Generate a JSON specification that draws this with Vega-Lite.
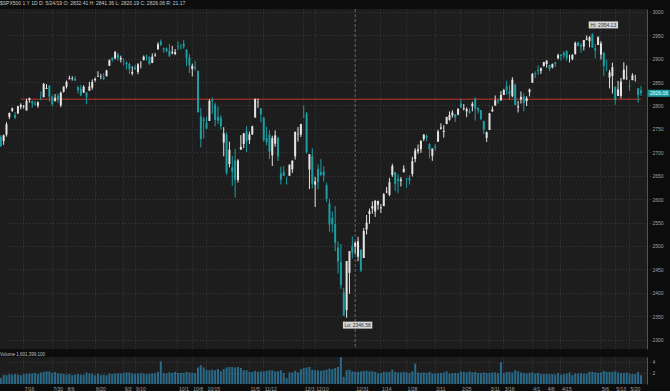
{
"$schema": "https://vega.github.io/schema/vega-lite/v6.json",
"background": "#0c0c0c",
"padding": 0,
"spacing": 1,
"title": {"text": "$SPX500 1 Y 1D   D: 5/24/19   O: 2832.41   H: 2841.36   L: 2820.19   C: 2826.06   R: 21.17", "anchor": "start", "frame": "group", "fontSize": 5, "font": "Liberation Sans", "fontWeight": "normal", "color": "#c8c8c8", "offset": 3},
"config": {"view": {"fill": "#1d1d1d", "stroke": null}, "axis": {"labelFont": "Liberation Sans", "labelFontSize": 5, "labelColor": "#a0a0a0", "title": null}},
"datasets": {
"px": [
{"d":"2018-07-02","o":2704.95,"h":2727.26,"l":2698.95,"c":2726.71,"v":1.6},
{"d":"2018-07-03","o":2733.27,"h":2736.58,"l":2711.16,"c":2713.22,"v":1.1},
{"d":"2018-07-05","o":2724.19,"h":2737.83,"l":2716.02,"c":2736.61,"v":1.7},
{"d":"2018-07-06","o":2737.68,"h":2764.41,"l":2733.52,"c":2759.82,"v":1.6},
{"d":"2018-07-09","o":2775.62,"h":2784.65,"l":2770.73,"c":2784.17,"v":1.8},
{"d":"2018-07-10","o":2788.56,"h":2795.58,"l":2786.24,"c":2793.84,"v":1.7},
{"d":"2018-07-11","o":2779.82,"h":2785.91,"l":2770.77,"c":2774.02,"v":1.8},
{"d":"2018-07-12","o":2783.14,"h":2799.22,"l":2781.53,"c":2798.29,"v":1.7},
{"d":"2018-07-13","o":2796.93,"h":2804.53,"l":2791.69,"c":2801.31,"v":1.6},
{"d":"2018-07-16","o":2797.36,"h":2801.19,"l":2793.39,"c":2798.43,"v":1.8},
{"d":"2018-07-17","o":2789.34,"h":2814.19,"l":2789.24,"c":2809.55,"v":1.9},
{"d":"2018-07-18","o":2811.35,"h":2816.76,"l":2805.89,"c":2815.62,"v":1.9},
{"d":"2018-07-19","o":2809.37,"h":2810.47,"l":2795.14,"c":2804.49,"v":1.9},
{"d":"2018-07-20","o":2804.55,"h":2809.7,"l":2800.01,"c":2801.83,"v":2.0},
{"d":"2018-07-23","o":2799.17,"h":2808.61,"l":2795.14,"c":2806.98,"v":1.8},
{"d":"2018-07-24","o":2820.68,"h":2829.99,"l":2811.12,"c":2820.4,"v":2.1},
{"d":"2018-07-25","o":2817.73,"h":2848.03,"l":2817.73,"c":2846.07,"v":2.2},
{"d":"2018-07-26","o":2835.49,"h":2845.57,"l":2835.26,"c":2837.44,"v":2.3},
{"d":"2018-07-27","o":2842.35,"h":2843.17,"l":2808.34,"c":2818.82,"v":2.3},
{"d":"2018-07-30","o":2819.0,"h":2821.74,"l":2798.11,"c":2802.6,"v":2.0},
{"d":"2018-07-31","o":2809.73,"h":2824.46,"l":2808.06,"c":2816.29,"v":2.2},
{"d":"2018-08-01","o":2821.17,"h":2825.83,"l":2805.85,"c":2813.36,"v":1.9},
{"d":"2018-08-02","o":2800.48,"h":2829.91,"l":2796.34,"c":2827.22,"v":1.9},
{"d":"2018-08-03","o":2829.62,"h":2840.38,"l":2827.37,"c":2840.35,"v":1.8},
{"d":"2018-08-06","o":2840.29,"h":2853.29,"l":2835.98,"c":2850.4,"v":1.7},
{"d":"2018-08-07","o":2855.92,"h":2863.43,"l":2855.92,"c":2858.45,"v":1.8},
{"d":"2018-08-08","o":2856.79,"h":2862.44,"l":2853.09,"c":2857.7,"v":1.6},
{"d":"2018-08-09","o":2857.19,"h":2862.48,"l":2851.98,"c":2853.58,"v":1.7},
{"d":"2018-08-10","o":2838.9,"h":2842.2,"l":2825.81,"c":2833.28,"v":1.8},
{"d":"2018-08-13","o":2835.46,"h":2843.4,"l":2819.88,"c":2821.93,"v":1.7},
{"d":"2018-08-14","o":2827.88,"h":2843.11,"l":2826.58,"c":2839.96,"v":1.7},
{"d":"2018-08-15","o":2827.95,"h":2827.95,"l":2802.49,"c":2818.37,"v":2.1},
{"d":"2018-08-16","o":2831.44,"h":2850.49,"l":2831.44,"c":2840.69,"v":1.9},
{"d":"2018-08-17","o":2838.32,"h":2855.63,"l":2833.73,"c":2850.13,"v":1.9},
{"d":"2018-08-20","o":2853.93,"h":2859.76,"l":2850.62,"c":2857.05,"v":1.6},
{"d":"2018-08-21","o":2861.51,"h":2873.23,"l":2861.32,"c":2862.96,"v":1.9},
{"d":"2018-08-22","o":2860.99,"h":2867.54,"l":2856.05,"c":2861.82,"v":1.6},
{"d":"2018-08-23","o":2860.29,"h":2868.78,"l":2854.03,"c":2856.98,"v":1.7},
{"d":"2018-08-24","o":2862.35,"h":2876.16,"l":2862.35,"c":2874.69,"v":1.6},
{"d":"2018-08-27","o":2884.69,"h":2898.25,"l":2884.69,"c":2896.74,"v":1.9},
{"d":"2018-08-28","o":2901.45,"h":2903.77,"l":2893.5,"c":2897.52,"v":1.8},
{"d":"2018-08-29","o":2900.62,"h":2916.5,"l":2898.4,"c":2914.04,"v":1.9},
{"d":"2018-08-30","o":2908.94,"h":2912.46,"l":2895.22,"c":2901.13,"v":1.9},
{"d":"2018-08-31","o":2898.37,"h":2906.32,"l":2891.73,"c":2901.52,"v":1.9},
{"d":"2018-09-04","o":2896.96,"h":2900.18,"l":2885.13,"c":2896.72,"v":2.0},
{"d":"2018-09-05","o":2891.59,"h":2894.21,"l":2876.92,"c":2888.6,"v":2.1},
{"d":"2018-09-06","o":2888.64,"h":2892.05,"l":2867.29,"c":2878.05,"v":2.1},
{"d":"2018-09-07","o":2868.26,"h":2883.81,"l":2864.12,"c":2871.68,"v":1.9},
{"d":"2018-09-10","o":2881.39,"h":2886.93,"l":2875.94,"c":2877.13,"v":1.8},
{"d":"2018-09-11","o":2871.57,"h":2890.43,"l":2866.78,"c":2887.89,"v":1.9},
{"d":"2018-09-12","o":2888.29,"h":2894.65,"l":2879.2,"c":2888.92,"v":2.0},
{"d":"2018-09-13","o":2896.85,"h":2906.76,"l":2896.39,"c":2904.18,"v":1.9},
{"d":"2018-09-14","o":2906.38,"h":2908.3,"l":2895.77,"c":2904.98,"v":1.8},
{"d":"2018-09-17","o":2903.83,"h":2904.65,"l":2886.16,"c":2888.8,"v":1.9},
{"d":"2018-09-18","o":2890.74,"h":2911.17,"l":2890.43,"c":2904.31,"v":1.9},
{"d":"2018-09-19","o":2906.6,"h":2912.36,"l":2903.82,"c":2907.95,"v":2.0},
{"d":"2018-09-20","o":2919.73,"h":2934.8,"l":2919.73,"c":2930.75,"v":2.2},
{"d":"2018-09-21","o":2936.76,"h":2940.91,"l":2927.11,"c":2929.67,"v":4.1},
{"d":"2018-09-24","o":2921.83,"h":2923.79,"l":2912.63,"c":2919.37,"v":2.0},
{"d":"2018-09-25","o":2921.75,"h":2923.95,"l":2913.7,"c":2915.56,"v":1.9},
{"d":"2018-09-26","o":2916.98,"h":2931.15,"l":2903.28,"c":2905.97,"v":2.1},
{"d":"2018-09-27","o":2911.65,"h":2927.22,"l":2909.27,"c":2914.0,"v":2.0},
{"d":"2018-09-28","o":2910.03,"h":2920.53,"l":2907.5,"c":2913.98,"v":2.2},
{"d":"2018-10-01","o":2926.29,"h":2937.06,"l":2917.91,"c":2924.59,"v":2.0},
{"d":"2018-10-02","o":2923.8,"h":2931.42,"l":2919.37,"c":2923.43,"v":2.0},
{"d":"2018-10-03","o":2931.69,"h":2939.86,"l":2921.36,"c":2925.51,"v":2.0},
{"d":"2018-10-04","o":2919.35,"h":2919.78,"l":2883.92,"c":2901.61,"v":2.2},
{"d":"2018-10-05","o":2902.54,"h":2909.64,"l":2869.29,"c":2885.57,"v":2.1},
{"d":"2018-10-08","o":2877.53,"h":2889.45,"l":2862.08,"c":2884.43,"v":2.0},
{"d":"2018-10-09","o":2882.51,"h":2894.83,"l":2874.27,"c":2880.34,"v":2.0},
{"d":"2018-10-10","o":2873.9,"h":2874.02,"l":2784.86,"c":2785.68,"v":3.0},
{"d":"2018-10-11","o":2776.87,"h":2795.14,"l":2710.51,"c":2728.37,"v":3.4},
{"d":"2018-10-12","o":2770.54,"h":2775.77,"l":2729.44,"c":2767.13,"v":3.0},
{"d":"2018-10-15","o":2763.83,"h":2775.99,"l":2749.03,"c":2750.79,"v":2.6},
{"d":"2018-10-16","o":2767.05,"h":2813.46,"l":2766.91,"c":2809.92,"v":2.5},
{"d":"2018-10-17","o":2811.67,"h":2816.94,"l":2781.81,"c":2809.21,"v":2.6},
{"d":"2018-10-18","o":2802.0,"h":2806.04,"l":2755.18,"c":2768.78,"v":2.5},
{"d":"2018-10-19","o":2775.66,"h":2797.77,"l":2760.27,"c":2767.78,"v":2.7},
{"d":"2018-10-22","o":2773.94,"h":2778.94,"l":2749.22,"c":2755.88,"v":2.3},
{"d":"2018-10-23","o":2721.03,"h":2753.59,"l":2691.43,"c":2740.69,"v":2.7},
{"d":"2018-10-24","o":2737.87,"h":2742.59,"l":2651.89,"c":2656.1,"v":3.0},
{"d":"2018-10-25","o":2674.88,"h":2722.7,"l":2667.84,"c":2705.57,"v":3.1},
{"d":"2018-10-26","o":2667.86,"h":2692.38,"l":2628.16,"c":2658.69,"v":3.1},
{"d":"2018-10-29","o":2682.65,"h":2706.85,"l":2603.54,"c":2641.25,"v":3.0},
{"d":"2018-10-30","o":2640.68,"h":2685.43,"l":2635.34,"c":2682.63,"v":3.1},
{"d":"2018-10-31","o":2705.6,"h":2736.69,"l":2705.6,"c":2711.74,"v":2.9},
{"d":"2018-11-01","o":2717.58,"h":2741.67,"l":2708.85,"c":2740.37,"v":2.5},
{"d":"2018-11-02","o":2745.45,"h":2756.55,"l":2700.44,"c":2723.06,"v":2.5},
{"d":"2018-11-05","o":2726.37,"h":2744.27,"l":2717.94,"c":2738.31,"v":2.2},
{"d":"2018-11-06","o":2738.4,"h":2756.82,"l":2737.08,"c":2755.45,"v":2.2},
{"d":"2018-11-07","o":2774.13,"h":2815.15,"l":2774.13,"c":2813.89,"v":2.4},
{"d":"2018-11-08","o":2806.38,"h":2814.75,"l":2794.99,"c":2806.83,"v":2.2},
{"d":"2018-11-09","o":2794.1,"h":2794.1,"l":2764.24,"c":2781.01,"v":2.3},
{"d":"2018-11-12","o":2773.93,"h":2775.99,"l":2722.0,"c":2726.22,"v":2.3},
{"d":"2018-11-13","o":2730.05,"h":2754.6,"l":2714.98,"c":2722.18,"v":2.4},
{"d":"2018-11-14","o":2737.9,"h":2746.8,"l":2685.75,"c":2701.58,"v":2.5},
{"d":"2018-11-15","o":2693.52,"h":2735.38,"l":2670.75,"c":2730.2,"v":2.5},
{"d":"2018-11-16","o":2718.54,"h":2746.75,"l":2712.16,"c":2736.27,"v":2.3},
{"d":"2018-11-19","o":2730.74,"h":2733.16,"l":2681.09,"c":2690.73,"v":2.3},
{"d":"2018-11-20","o":2654.6,"h":2669.44,"l":2631.52,"c":2641.89,"v":2.5},
{"d":"2018-11-21","o":2657.74,"h":2670.73,"l":2649.82,"c":2649.93,"v":2.0},
{"d":"2018-11-23","o":2633.36,"h":2647.55,"l":2631.09,"c":2632.56,"v":1.1},
{"d":"2018-11-26","o":2649.97,"h":2674.35,"l":2649.97,"c":2673.45,"v":2.1},
{"d":"2018-11-27","o":2663.75,"h":2682.53,"l":2655.89,"c":2682.17,"v":2.1},
{"d":"2018-11-28","o":2691.45,"h":2744.0,"l":2684.38,"c":2743.79,"v":2.4},
{"d":"2018-11-29","o":2736.97,"h":2753.75,"l":2722.94,"c":2737.8,"v":2.1},
{"d":"2018-11-30","o":2737.76,"h":2760.88,"l":2732.76,"c":2760.17,"v":2.7},
{"d":"2018-12-03","o":2790.5,"h":2800.18,"l":2773.38,"c":2790.37,"v":2.9},
{"d":"2018-12-04","o":2782.43,"h":2785.93,"l":2697.18,"c":2700.06,"v":3.0},
{"d":"2018-12-06","o":2663.51,"h":2696.15,"l":2621.53,"c":2695.95,"v":3.1},
{"d":"2018-12-07","o":2691.26,"h":2708.54,"l":2623.14,"c":2633.08,"v":2.6},
{"d":"2018-12-10","o":2630.86,"h":2647.51,"l":2583.23,"c":2637.72,"v":2.5},
{"d":"2018-12-11","o":2664.44,"h":2674.35,"l":2621.3,"c":2636.78,"v":2.5},
{"d":"2018-12-12","o":2658.23,"h":2685.44,"l":2650.26,"c":2651.07,"v":2.4},
{"d":"2018-12-13","o":2658.7,"h":2670.19,"l":2637.27,"c":2650.54,"v":2.5},
{"d":"2018-12-14","o":2629.68,"h":2635.07,"l":2593.84,"c":2599.95,"v":2.6},
{"d":"2018-12-17","o":2590.75,"h":2601.13,"l":2530.54,"c":2545.94,"v":2.8},
{"d":"2018-12-18","o":2559.9,"h":2573.99,"l":2528.71,"c":2546.16,"v":2.7},
{"d":"2018-12-19","o":2547.05,"h":2585.29,"l":2488.96,"c":2506.96,"v":2.9},
{"d":"2018-12-20","o":2496.77,"h":2509.63,"l":2441.18,"c":2467.42,"v":3.1},
{"d":"2018-12-21","o":2465.38,"h":2504.41,"l":2408.55,"c":2416.62,"v":5.0},
{"d":"2018-12-24","o":2400.56,"h":2410.34,"l":2351.1,"c":2351.1,"v":1.3},
{"d":"2018-12-26","o":2363.12,"h":2467.76,"l":2346.58,"c":2467.7,"v":2.5},
{"d":"2018-12-27","o":2442.5,"h":2489.1,"l":2397.94,"c":2488.83,"v":2.6},
{"d":"2018-12-28","o":2498.77,"h":2520.27,"l":2472.89,"c":2485.74,"v":2.3},
{"d":"2018-12-31","o":2498.94,"h":2509.24,"l":2482.82,"c":2506.85,"v":2.2},
{"d":"2019-01-02","o":2476.96,"h":2519.49,"l":2467.47,"c":2510.03,"v":2.2},
{"d":"2019-01-03","o":2491.92,"h":2493.14,"l":2443.96,"c":2447.89,"v":2.3},
{"d":"2019-01-04","o":2474.33,"h":2538.07,"l":2474.33,"c":2531.94,"v":2.4},
{"d":"2019-01-07","o":2535.61,"h":2566.16,"l":2524.56,"c":2549.69,"v":2.4},
{"d":"2019-01-08","o":2568.11,"h":2579.82,"l":2547.56,"c":2574.41,"v":2.3},
{"d":"2019-01-09","o":2580.0,"h":2595.32,"l":2568.89,"c":2584.96,"v":2.3},
{"d":"2019-01-10","o":2573.51,"h":2597.82,"l":2562.02,"c":2596.64,"v":2.2},
{"d":"2019-01-11","o":2588.11,"h":2596.27,"l":2577.4,"c":2596.26,"v":2.0},
{"d":"2019-01-14","o":2580.31,"h":2589.32,"l":2570.41,"c":2582.61,"v":2.0},
{"d":"2019-01-15","o":2585.1,"h":2613.08,"l":2585.1,"c":2610.3,"v":2.2},
{"d":"2019-01-16","o":2614.75,"h":2625.76,"l":2612.68,"c":2616.1,"v":2.2},
{"d":"2019-01-17","o":2609.28,"h":2645.06,"l":2606.36,"c":2635.96,"v":2.2},
{"d":"2019-01-18","o":2651.27,"h":2675.47,"l":2647.58,"c":2670.71,"v":2.6},
{"d":"2019-01-22","o":2657.88,"h":2657.88,"l":2617.27,"c":2632.9,"v":2.2},
{"d":"2019-01-23","o":2643.48,"h":2653.19,"l":2612.86,"c":2638.7,"v":2.1},
{"d":"2019-01-24","o":2638.84,"h":2647.2,"l":2627.01,"c":2642.33,"v":2.1},
{"d":"2019-01-25","o":2657.44,"h":2672.38,"l":2657.33,"c":2664.76,"v":2.2},
{"d":"2019-01-28","o":2644.97,"h":2644.97,"l":2624.06,"c":2643.85,"v":2.1},
{"d":"2019-01-29","o":2644.89,"h":2650.93,"l":2631.05,"c":2640.0,"v":2.0},
{"d":"2019-01-30","o":2653.62,"h":2690.44,"l":2648.34,"c":2681.05,"v":2.3},
{"d":"2019-01-31","o":2685.49,"h":2708.95,"l":2678.65,"c":2704.1,"v":3.7},
{"d":"2019-02-01","o":2702.32,"h":2716.66,"l":2696.88,"c":2706.53,"v":2.1},
{"d":"2019-02-04","o":2706.49,"h":2724.99,"l":2698.75,"c":2724.87,"v":2.0},
{"d":"2019-02-05","o":2728.34,"h":2738.98,"l":2724.03,"c":2737.7,"v":2.1},
{"d":"2019-02-06","o":2735.05,"h":2738.08,"l":2724.15,"c":2731.61,"v":2.0},
{"d":"2019-02-07","o":2717.53,"h":2719.32,"l":2687.26,"c":2706.05,"v":2.2},
{"d":"2019-02-08","o":2692.36,"h":2708.07,"l":2681.83,"c":2707.88,"v":1.9},
{"d":"2019-02-11","o":2712.4,"h":2718.05,"l":2703.79,"c":2709.8,"v":1.9},
{"d":"2019-02-12","o":2722.61,"h":2748.19,"l":2722.61,"c":2744.73,"v":2.0},
{"d":"2019-02-13","o":2750.3,"h":2761.85,"l":2748.63,"c":2753.03,"v":2.0},
{"d":"2019-02-14","o":2743.5,"h":2757.9,"l":2731.23,"c":2745.73,"v":2.1},
{"d":"2019-02-15","o":2760.24,"h":2775.66,"l":2760.24,"c":2775.6,"v":2.3},
{"d":"2019-02-19","o":2769.28,"h":2787.33,"l":2767.29,"c":2779.76,"v":1.9},
{"d":"2019-02-20","o":2779.05,"h":2789.88,"l":2774.06,"c":2784.7,"v":2.0},
{"d":"2019-02-21","o":2780.67,"h":2781.58,"l":2764.55,"c":2774.88,"v":2.0},
{"d":"2019-02-22","o":2780.67,"h":2794.2,"l":2779.11,"c":2792.67,"v":2.0},
{"d":"2019-02-25","o":2804.35,"h":2813.49,"l":2794.99,"c":2796.11,"v":2.3},
{"d":"2019-02-26","o":2792.36,"h":2803.12,"l":2789.47,"c":2793.9,"v":2.2},
{"d":"2019-02-27","o":2787.5,"h":2795.76,"l":2775.13,"c":2792.38,"v":2.1},
{"d":"2019-02-28","o":2788.11,"h":2793.73,"l":2782.51,"c":2784.49,"v":2.3},
{"d":"2019-03-01","o":2798.22,"h":2808.02,"l":2787.38,"c":2803.69,"v":2.1},
{"d":"2019-03-04","o":2814.37,"h":2816.88,"l":2767.66,"c":2792.81,"v":2.2},
{"d":"2019-03-05","o":2794.41,"h":2796.44,"l":2782.97,"c":2789.65,"v":2.0},
{"d":"2019-03-06","o":2790.27,"h":2790.27,"l":2768.69,"c":2771.45,"v":2.0},
{"d":"2019-03-07","o":2766.53,"h":2767.25,"l":2739.09,"c":2748.93,"v":2.1},
{"d":"2019-03-08","o":2730.79,"h":2744.13,"l":2722.27,"c":2743.07,"v":2.0},
{"d":"2019-03-11","o":2747.61,"h":2784.0,"l":2747.61,"c":2783.3,"v":2.0},
{"d":"2019-03-12","o":2787.34,"h":2798.32,"l":2786.73,"c":2791.52,"v":2.1},
{"d":"2019-03-13","o":2799.78,"h":2821.24,"l":2799.78,"c":2810.92,"v":2.1},
{"d":"2019-03-14","o":2810.38,"h":2815.0,"l":2803.46,"c":2808.48,"v":2.0},
{"d":"2019-03-15","o":2810.79,"h":2830.73,"l":2810.79,"c":2822.48,"v":4.0},
{"d":"2019-03-18","o":2822.61,"h":2835.41,"l":2821.99,"c":2832.94,"v":2.0},
{"d":"2019-03-19","o":2840.76,"h":2852.42,"l":2823.27,"c":2832.57,"v":2.2},
{"d":"2019-03-20","o":2831.34,"h":2843.54,"l":2812.43,"c":2824.23,"v":2.2},
{"d":"2019-03-21","o":2819.72,"h":2860.31,"l":2817.38,"c":2854.88,"v":2.1},
{"d":"2019-03-22","o":2844.52,"h":2846.16,"l":2800.47,"c":2800.71,"v":2.5},
{"d":"2019-03-25","o":2796.01,"h":2809.79,"l":2785.02,"c":2798.36,"v":2.3},
{"d":"2019-03-26","o":2812.66,"h":2829.87,"l":2803.99,"c":2818.46,"v":2.1},
{"d":"2019-03-27","o":2819.72,"h":2825.56,"l":2787.72,"c":2805.37,"v":2.0},
{"d":"2019-03-28","o":2809.4,"h":2819.71,"l":2798.77,"c":2815.44,"v":1.9},
{"d":"2019-03-29","o":2828.27,"h":2836.03,"l":2819.23,"c":2834.4,"v":2.0},
{"d":"2019-04-01","o":2848.63,"h":2869.4,"l":2848.63,"c":2867.19,"v":2.1},
{"d":"2019-04-02","o":2868.24,"h":2872.9,"l":2858.75,"c":2867.24,"v":1.9},
{"d":"2019-04-03","o":2876.09,"h":2885.25,"l":2865.17,"c":2873.4,"v":2.0},
{"d":"2019-04-04","o":2873.99,"h":2881.28,"l":2867.14,"c":2879.39,"v":1.8},
{"d":"2019-04-05","o":2884.16,"h":2893.24,"l":2882.99,"c":2892.74,"v":1.8},
{"d":"2019-04-08","o":2888.46,"h":2895.95,"l":2880.78,"c":2895.77,"v":1.8},
{"d":"2019-04-09","o":2886.58,"h":2886.88,"l":2873.33,"c":2878.2,"v":1.8},
{"d":"2019-04-10","o":2881.37,"h":2889.71,"l":2879.13,"c":2888.21,"v":1.8},
{"d":"2019-04-11","o":2891.92,"h":2893.42,"l":2881.99,"c":2888.32,"v":1.7},
{"d":"2019-04-12","o":2900.86,"h":2910.54,"l":2898.37,"c":2907.41,"v":2.0},
{"d":"2019-04-15","o":2908.32,"h":2909.6,"l":2896.48,"c":2905.58,"v":1.7},
{"d":"2019-04-16","o":2912.26,"h":2916.06,"l":2900.71,"c":2907.06,"v":1.8},
{"d":"2019-04-17","o":2916.04,"h":2918.0,"l":2895.45,"c":2900.45,"v":1.9},
{"d":"2019-04-18","o":2904.81,"h":2908.4,"l":2891.9,"c":2905.03,"v":2.1},
{"d":"2019-04-22","o":2898.78,"h":2909.51,"l":2896.35,"c":2907.97,"v":1.6},
{"d":"2019-04-23","o":2909.99,"h":2936.31,"l":2908.53,"c":2933.68,"v":1.9},
{"d":"2019-04-24","o":2934.0,"h":2936.83,"l":2926.05,"c":2927.25,"v":1.9},
{"d":"2019-04-25","o":2928.99,"h":2933.1,"l":2912.84,"c":2926.17,"v":2.0},
{"d":"2019-04-26","o":2925.81,"h":2939.88,"l":2917.56,"c":2939.88,"v":1.9},
{"d":"2019-04-29","o":2940.58,"h":2949.52,"l":2939.35,"c":2943.03,"v":1.9},
{"d":"2019-04-30","o":2937.14,"h":2948.22,"l":2924.11,"c":2945.83,"v":2.2},
{"d":"2019-05-01","o":2952.33,"h":2954.13,"l":2923.36,"c":2923.73,"v":2.2},
{"d":"2019-05-02","o":2922.16,"h":2931.68,"l":2900.5,"c":2917.52,"v":2.1},
{"d":"2019-05-03","o":2929.21,"h":2947.85,"l":2929.21,"c":2945.64,"v":2.0},
{"d":"2019-05-06","o":2908.89,"h":2937.32,"l":2898.21,"c":2932.47,"v":2.1},
{"d":"2019-05-07","o":2913.03,"h":2913.03,"l":2862.6,"c":2884.05,"v":2.4},
{"d":"2019-05-08","o":2879.61,"h":2897.96,"l":2873.28,"c":2879.42,"v":2.2},
{"d":"2019-05-09","o":2859.84,"h":2875.97,"l":2836.4,"c":2870.72,"v":2.2},
{"d":"2019-05-10","o":2863.1,"h":2891.31,"l":2825.39,"c":2881.4,"v":2.2},
{"d":"2019-05-13","o":2840.19,"h":2840.19,"l":2801.43,"c":2811.87,"v":2.3},
{"d":"2019-05-14","o":2820.12,"h":2852.54,"l":2820.12,"c":2834.41,"v":2.1},
{"d":"2019-05-15","o":2820.38,"h":2858.68,"l":2815.08,"c":2850.96,"v":2.0},
{"d":"2019-05-16","o":2855.8,"h":2892.15,"l":2855.8,"c":2876.32,"v":2.0},
{"d":"2019-05-17","o":2858.6,"h":2885.48,"l":2854.23,"c":2859.53,"v":2.1},
{"d":"2019-05-20","o":2841.94,"h":2853.86,"l":2831.29,"c":2840.23,"v":1.9},
{"d":"2019-05-21","o":2854.02,"h":2868.88,"l":2854.02,"c":2864.36,"v":1.8},
{"d":"2019-05-22","o":2856.06,"h":2865.47,"l":2851.11,"c":2856.27,"v":1.8},
{"d":"2019-05-23","o":2836.7,"h":2836.7,"l":2805.49,"c":2822.24,"v":2.2},
{"d":"2019-05-24","o":2832.41,"h":2841.36,"l":2820.19,"c":2826.06,"v":1.6}
]
},
"data": {"name": "px"},
"vconcat": [
{
"width": 647,
"height": 340,
"layer": [
{
"mark": {"type": "rule", "strokeDash": [3, 2], "color": "#6a6a6a", "strokeWidth": 1},
"data": {"values": [{"d": "2018-12-31"}]},
"encoding": {
"x": {"field": "d", "type": "ordinal", "scale": {"range": [-3.5, 642.4], "paddingInner": 0, "paddingOuter": 0},
"axis": {"values": ["2018-07-16","2018-07-30","2018-08-06","2018-08-20","2018-09-04","2018-09-10","2018-10-01","2018-10-08","2018-10-15","2018-11-05","2018-11-12","2018-12-03","2018-12-10","2019-01-14","2019-01-28","2019-02-11","2019-02-25","2019-03-11","2019-03-18","2019-04-01","2019-04-08","2019-04-15","2019-05-06","2019-05-13","2019-05-20"], "labels": false, "ticks": false, "domain": false, "grid": true, "gridDash": [1, 2], "gridColor": "#3a3a3a", "minExtent": 0, "maxExtent": 0}}
}
},
{
"mark": {"type": "rule", "color": "#c0342a", "strokeWidth": 1},
"data": {"values": [{"d": "2018-07-13", "d2": "2019-05-24", "p": 2813.4}]},
"encoding": {
"x": {"field": "d", "type": "ordinal"},
"x2": {"field": "d2"},
"y": {"field": "p", "type": "quantitative", "scale": {"domain": [2280, 3006], "nice": false, "zero": false},
"axis": {"orient": "right", "values": [2300,2350,2400,2450,2500,2550,2600,2650,2700,2750,2800,2850,2900,2950,3000], "format": "d", "labelOverlap": false, "ticks": false, "domain": true, "domainColor": "#555555", "grid": true, "gridDash": [1, 2], "gridColor": "#3a3a3a", "labelPadding": 5}}
}
},
{
"mark": {"type": "rule", "strokeWidth": 1, "clip": true},
"encoding": {
"x": {"field": "d", "type": "ordinal"},
"y": {"field": "l", "type": "quantitative",
"axis": {"orient": "right", "values": [2300,2350,2400,2450,2500,2550,2600,2650,2700,2750,2800,2850,2900,2950,3000], "format": "d", "labelOverlap": false, "ticks": false, "domain": true, "domainColor": "#555555", "grid": true, "gridDash": [1, 2], "gridColor": "#3a3a3a", "labelPadding": 5}},
"y2": {"field": "h"},
"color": {"condition": {"test": "datum.c < datum.o", "value": "#1c9ea3"}, "value": "#e4e4e4"}
}
},
{
"mark": {"type": "bar", "width": 2, "clip": true},
"encoding": {
"x": {"field": "d", "type": "ordinal"},
"y": {"field": "o", "type": "quantitative",
"axis": {"orient": "right", "values": [2300,2350,2400,2450,2500,2550,2600,2650,2700,2750,2800,2850,2900,2950,3000], "format": "d", "labelOverlap": false, "ticks": false, "domain": true, "domainColor": "#555555", "grid": true, "gridDash": [1, 2], "gridColor": "#3a3a3a", "labelPadding": 5}},
"y2": {"field": "c"},
"color": {"condition": {"test": "datum.c < datum.o", "value": "#1c9ea3"}, "value": "#e4e4e4"}
}
},
{
"data": {"values": [
{"d": "2019-05-01", "p": 2972, "t": "Hi: 2954.13"},
{"d": "2018-12-26", "p": 2331, "t": "Lo: 2346.58"}
]},
"mark": {"type": "point", "shape": "M-4.2,-1H4.2V1H-4.2Z", "size": 49, "filled": true, "opacity": 1, "color": "#d6d6d6", "xOffset": 11},
"encoding": {
"x": {"field": "d", "type": "ordinal"},
"y": {"field": "p", "type": "quantitative",
"axis": {"orient": "right", "values": [2300,2350,2400,2450,2500,2550,2600,2650,2700,2750,2800,2850,2900,2950,3000], "format": "d", "labelOverlap": false, "ticks": false, "domain": true, "domainColor": "#555555", "grid": true, "gridDash": [1, 2], "gridColor": "#3a3a3a", "labelPadding": 5}}
}
},
{
"data": {"values": [
{"d": "2019-05-01", "p": 2972, "t": "Hi: 2954.13"},
{"d": "2018-12-26", "p": 2331, "t": "Lo: 2346.58"}
]},
"mark": {"type": "text", "font": "Liberation Sans", "fontSize": 5, "color": "#333333", "dx": 11, "align": "center", "baseline": "middle"},
"encoding": {
"x": {"field": "d", "type": "ordinal"},
"y": {"field": "p", "type": "quantitative",
"axis": {"orient": "right", "values": [2300,2350,2400,2450,2500,2550,2600,2650,2700,2750,2800,2850,2900,2950,3000], "format": "d", "labelOverlap": false, "ticks": false, "domain": true, "domainColor": "#555555", "grid": true, "gridDash": [1, 2], "gridColor": "#3a3a3a", "labelPadding": 5}},
"text": {"field": "t"}
}
},
{
"data": {"values": [{"d": "2019-05-24", "p": 2826.06, "t": "2826.06"}]},
"mark": {"type": "point", "shape": "M-3.1,-1H3.1V1H-3.1Z", "size": 49, "filled": true, "opacity": 1, "color": "#1c9ea3", "xOffset": 18},
"encoding": {
"x": {"field": "d", "type": "ordinal"},
"y": {"field": "p", "type": "quantitative",
"axis": {"orient": "right", "values": [2300,2350,2400,2450,2500,2550,2600,2650,2700,2750,2800,2850,2900,2950,3000], "format": "d", "labelOverlap": false, "ticks": false, "domain": true, "domainColor": "#555555", "grid": true, "gridDash": [1, 2], "gridColor": "#3a3a3a", "labelPadding": 5}}
}
},
{
"data": {"values": [{"d": "2019-05-24", "p": 2826.06, "t": "2826.06"}]},
"mark": {"type": "text", "font": "Liberation Sans", "fontSize": 5, "color": "#e8fbfb", "dx": 18, "align": "center", "baseline": "middle"},
"encoding": {
"x": {"field": "d", "type": "ordinal"},
"y": {"field": "p", "type": "quantitative",
"axis": {"orient": "right", "values": [2300,2350,2400,2450,2500,2550,2600,2650,2700,2750,2800,2850,2900,2950,3000], "format": "d", "labelOverlap": false, "ticks": false, "domain": true, "domainColor": "#555555", "grid": true, "gridDash": [1, 2], "gridColor": "#3a3a3a", "labelPadding": 5}},
"text": {"field": "t"}
}
}
]
},
{
"title": {"text": "Volume   1,601,399,100", "anchor": "start", "frame": "group", "fontSize": 4.5, "font": "Liberation Sans", "fontWeight": "normal", "color": "#c0c0c0", "offset": 1},
"width": 647,
"height": 27,
"mark": {"type": "bar", "width": 2, "color": "#2a6a88", "clip": true},
"encoding": {
"x": {"field": "d", "type": "ordinal", "scale": {"range": [-3.5, 642.4], "paddingInner": 0, "paddingOuter": 0},
"axis": {"values": ["2018-07-16","2018-07-30","2018-08-06","2018-08-20","2018-09-04","2018-09-10","2018-10-01","2018-10-08","2018-10-15","2018-11-05","2018-11-12","2018-12-03","2018-12-10","2018-12-31","2019-01-14","2019-01-28","2019-02-11","2019-02-25","2019-03-11","2019-03-18","2019-04-01","2019-04-08","2019-04-15","2019-05-06","2019-05-13","2019-05-20"],
"labelExpr": "datum.value == '2018-09-04' ? '9/3' : toNumber(slice(datum.value, 5, 7)) + '/' + toNumber(slice(datum.value, 8, 10))",
"labelAngle": 0, "labelAlign": "left", "labelBaseline": "top", "labelPadding": 2, "labelOffset": 1, "labelOverlap": false, "ticks": false, "domain": false, "grid": true, "gridDash": [1, 2], "gridColor": "#3a3a3a"}},
"y": {"field": "v", "type": "quantitative", "scale": {"domain": [0, 4.9], "nice": false},
"axis": {"orient": "right", "values": [2, 4], "format": "d", "labelOverlap": false, "ticks": false, "domain": true, "domainColor": "#555555", "grid": true, "gridDash": [1, 2], "gridColor": "#3a3a3a", "labelPadding": 5}}
}
}
]
}
